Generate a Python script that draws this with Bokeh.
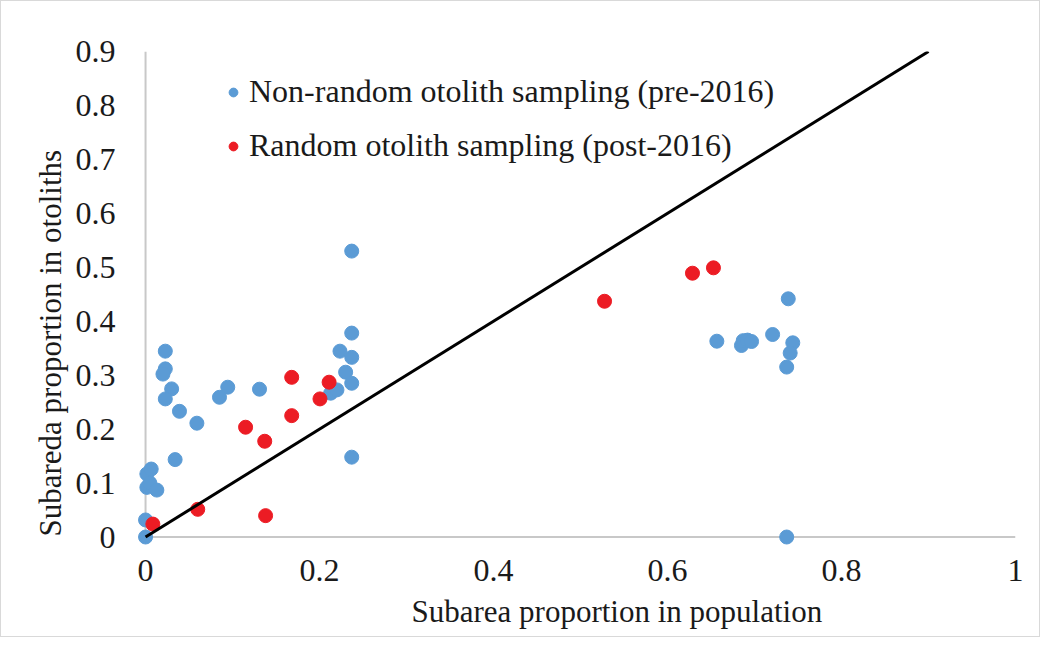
from bokeh.plotting import figure
from bokeh.models import Range1d, FixedTicker, Legend, LegendItem, Title
from bokeh.embed import file_html
from bokeh.resources import INLINE

# ---- data ----
nonrandom_x = [0.0, 0.0, 0.0015, 0.0015, 0.005, 0.0065, 0.013, 0.0227, 0.0227, 0.020,
               0.030, 0.0227, 0.039, 0.059, 0.034, 0.0945, 0.085, 0.131, 0.2128, 0.220,
               0.2235, 0.230, 0.237, 0.237, 0.237, 0.237, 0.237, 0.6567, 0.685, 0.687,
               0.692, 0.6966, 0.7208, 0.7388, 0.744, 0.741, 0.737, 0.737]
nonrandom_y = [0.0, 0.0316, 0.092, 0.117, 0.100, 0.126, 0.087, 0.3445, 0.3117, 0.302,
               0.2746, 0.256, 0.233, 0.211, 0.1435, 0.2777, 0.259, 0.274, 0.2666, 0.2727,
               0.3445, 0.3055, 0.530, 0.378, 0.333, 0.285, 0.148, 0.363, 0.355, 0.364,
               0.365, 0.3624, 0.3754, 0.4416, 0.360, 0.341, 0.315, 0.0]

random_x = [0.0084, 0.060, 0.115, 0.137, 0.138, 0.168, 0.168, 0.2005, 0.211, 0.5276, 0.6287, 0.6528]
random_y = [0.024, 0.0513, 0.2035, 0.1775, 0.0396, 0.296, 0.225, 0.256, 0.287, 0.437, 0.489, 0.499]

one_to_one_x = [0.0, 0.9]
one_to_one_y = [0.0, 0.9]

series_names = ["Non-random otolith sampling (pre-2016)", "Random otolith sampling (post-2016)"]
x_ticks = [0, 0.2, 0.4, 0.6, 0.8, 1.0]
x_tick_labels = ["0", "0.2", "0.4", "0.6", "0.8", "1"]
y_ticks = [0, 0.1, 0.2, 0.3, 0.4, 0.5, 0.6, 0.7, 0.8, 0.9]
y_tick_labels = ["0", "0.1", "0.2", "0.3", "0.4", "0.5", "0.6", "0.7", "0.8", "0.9"]
x_title = "Subarea proportion in population"
y_title = "Subareda proportion in otoliths"

FONT = "Liberation Serif"
BLUE = "#5B9BD5"
RED = "#EC1C24"
TXT = "#1a1a1a"
AXIS = "#c8c8c8"

p = figure(width=1040, height=637, output_backend="svg", toolbar_location=None,
           x_range=Range1d(-0.015, 1.0), y_range=Range1d(-0.025, 0.9),
           min_border_left=131, min_border_right=26, min_border_top=50, min_border_bottom=88)
p.styles = {"border": "1px solid #d9d9d9"}
p.outline_line_color = None
p.background_fill_color = "white"
p.border_fill_color = "white"
p.xgrid.visible = False
p.ygrid.visible = False

for ax in (p.xaxis[0], p.yaxis[0]):
    ax.axis_line_color = None
    ax.major_tick_line_color = None
    ax.minor_tick_line_color = None
    ax.major_label_text_font = FONT
    ax.major_label_text_font_size = "32px"
    ax.major_label_text_color = TXT

p.xaxis[0].ticker = FixedTicker(ticks=x_ticks)
p.yaxis[0].ticker = FixedTicker(ticks=y_ticks)
p.xaxis[0].major_label_overrides = dict(zip(x_ticks, x_tick_labels))
p.yaxis[0].major_label_overrides = dict(zip(y_ticks, y_tick_labels))
p.xaxis[0].major_label_standoff = 3
p.yaxis[0].major_label_standoff = 11

# axis titles as side-panel titles (offset to match the reference placement)
p.add_layout(Title(text=x_title, align="left", offset=279, standoff=16,
                   text_font=FONT, text_font_size="31px", text_font_style="normal",
                   text_color=TXT), "below")
p.add_layout(Title(text=y_title, align="left", offset=14, standoff=10,
                   text_font=FONT, text_font_size="31px", text_font_style="normal",
                   text_color=TXT), "left")

# axis lines at the data origin, spanning the tick extents
p.segment(x0=[x_ticks[0]], y0=[y_ticks[0]], x1=[x_ticks[-1]], y1=[y_ticks[0]],
          line_color=AXIS, line_width=2)
p.segment(x0=[x_ticks[0]], y0=[y_ticks[0]], x1=[x_ticks[0]], y1=[y_ticks[-1]],
          line_color=AXIS, line_width=2)

r_blue = p.scatter(nonrandom_x, nonrandom_y, size=14, marker="circle",
                   fill_color=BLUE, line_color=BLUE)
r_red = p.scatter(random_x, random_y, size=14, marker="circle",
                  fill_color=RED, line_color=RED)
p.line(one_to_one_x, one_to_one_y, line_color="black", line_width=3)

legend = Legend(items=[LegendItem(label=series_names[0], renderers=[r_blue]),
                       LegendItem(label=series_names[1], renderers=[r_red])],
                location=(90, 386), orientation="vertical",
                glyph_width=22, glyph_height=22, label_standoff=5, spacing=17,
                padding=0, margin=0, border_line_color=None, background_fill_alpha=0,
                label_text_font=FONT, label_text_font_size="32px", label_text_color=TXT)
p.add_layout(legend)

open("out.html", "w").write(file_html(p, INLINE))
